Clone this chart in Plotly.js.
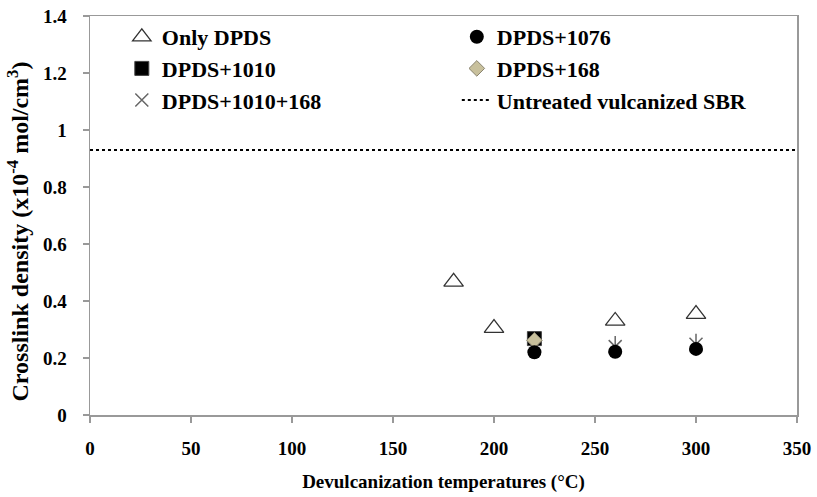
<!DOCTYPE html>
<html>
<head>
<meta charset="utf-8">
<script src="https://cdn.plot.ly/plotly-3.0.1.min.js"></script>
<style>html,body{margin:0;padding:0;background:#fff;}#chart{width:817px;height:497px;}</style>
</head>
<body>
<div id="chart"></div>
<script>
const onlyX = [180, 200, 260, 300];
const onlyY = [0.467, 0.305, 0.33, 0.354];
const d1076X = [220, 260, 300];
const d1076Y = [0.22, 0.222, 0.232];
const d1010X = [220];
const d1010Y = [0.268];
const d168X = [220];
const d168Y = [0.262];
const d1010_168X = [220, 260, 300];
const d1010_168Y = [0.245, 0.24, 0.248];
const untreatedX = [0, 350];
const untreatedY = [0.93, 0.93];
const xTicks = [0, 50, 100, 150, 200, 250, 300, 350];
const yTicks = [0, 0.2, 0.4, 0.6, 0.8, 1, 1.2, 1.4];
const yTickText = ['0', '0.2', '0.4', '0.6', '0.8', '1', '1.2', '1.4'];
const yTitle = '<b>Crosslink density (x10<sup>-4</sup> mol/cm<sup>3</sup>)</b>';
const xTitle = '<b>Devulcanization temperatures (°C)</b>';

const F = 'Liberation Serif, Times New Roman, serif';

const traces = [
  {x: d1010_168X, y: d1010_168Y, mode: 'markers', name: '<b>DPDS+1010+168</b>', legendrank: 5,
   marker: {symbol: 'x-thin-open', size: 13, color: '#666', line: {color: '#666', width: 1.5}}},
  {x: d1010_168X, y: d1010_168Y, mode: 'markers', showlegend: false, hoverinfo: 'skip',
   marker: {symbol: 'line-ns-open', size: 15, color: '#666', line: {color: '#666', width: 1.5}}},
  {x: onlyX, y: onlyY, mode: 'markers', name: '<b>Only DPDS</b>', legendrank: 1,
   marker: {symbol: 'triangle-up-open', size: 17, color: '#333', line: {color: '#333', width: 1.3}}},
  {x: d1010X, y: d1010Y, mode: 'markers', name: '<b>DPDS+1010</b>', legendrank: 3,
   marker: {symbol: 'square', size: 14, color: '#000', line: {color: '#444', width: 1}}},
  {x: d168X, y: d168Y, mode: 'markers', name: '<b>DPDS+168</b>', legendrank: 4,
   marker: {symbol: 'diamond', size: 12, color: '#c8c09c', line: {color: '#8a8470', width: 1}}},
  {x: d1076X, y: d1076Y, mode: 'markers', name: '<b>DPDS+1076</b>', legendrank: 2,
   marker: {symbol: 'circle', size: 14, color: '#000'}},
  {x: untreatedX, y: untreatedY, mode: 'lines', name: '<b>Untreated vulcanized SBR</b>', legendrank: 6,
   line: {color: '#000', width: 2, dash: 'dot'}}
];

const layout = {
  width: 817, height: 497,
  margin: {l: 90, r: 20, t: 16, b: 82},
  paper_bgcolor: '#fff', plot_bgcolor: '#fff',
  font: {family: F, color: '#000', size: 18},
  showlegend: true,
  legend: {
    orientation: 'h', x: 0.045, y: 1.0, xanchor: 'left', yanchor: 'top',
    entrywidth: 290, entrywidthmode: 'pixels',
    font: {family: F, size: 22, color: '#000'},
    bgcolor: 'rgba(0,0,0,0)', traceorder: 'normal'
  },
  xaxis: {
    range: [0, 350], tickvals: xTicks, ticktext: xTicks.map(String),
    showgrid: false, zeroline: false, showline: true, linecolor: '#999', linewidth: 1.5,
    ticks: 'outside', ticklen: 6, tickcolor: '#999', tickwidth: 1.5, ticklabelstandoff: 10,
    mirror: true,
    tickfont: {family: F, size: 19, color: '#000', weight: 'bold'},
    title: {text: xTitle, font: {family: F, size: 19, color: '#000'}, standoff: 16}
  },
  yaxis: {
    range: [0, 1.4], tickvals: yTicks, ticktext: yTickText,
    showgrid: false, zeroline: false, showline: true, linecolor: '#999', linewidth: 1.5,
    ticks: 'outside', ticklen: 6, tickcolor: '#999', tickwidth: 1.5, ticklabelstandoff: 12,
    mirror: true,
    tickfont: {family: F, size: 19, color: '#000', weight: 'bold'}
  },
  annotations: [{
    text: yTitle, textangle: -90, showarrow: false,
    xref: 'paper', yref: 'paper', x: 0, y: 0.46, xanchor: 'center', yanchor: 'middle',
    xshift: -72, font: {family: F, size: 24, color: '#000'}
  }]
};

Plotly.newPlot('chart', traces, layout, {displayModeBar: false, staticPlot: true});
</script>
</body>
</html>
